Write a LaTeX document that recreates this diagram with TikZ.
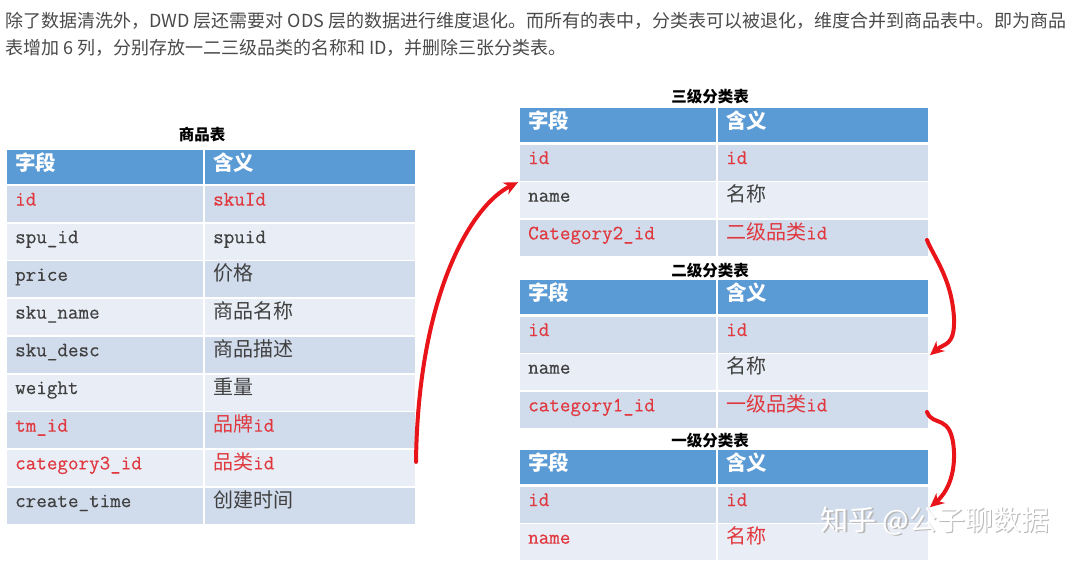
\documentclass[tikz,border=0pt]{standalone}
\usepackage{fontspec}
\setmonofont{Latin Modern Mono}[FakeBold=0.4]
\newfontfamily\cjk{Noto Sans CJK SC}
\usetikzlibrary{calc,arrows.meta}
\definecolor{hdr}{HTML}{5B9BD5}
\definecolor{rowd}{HTML}{D0DBEB}
\definecolor{rowl}{HTML}{E9EEF6}
\definecolor{redt}{HTML}{E0383E}
\definecolor{grayt}{HTML}{404040}
\definecolor{para}{HTML}{4A4A4A}
\definecolor{arrowred}{HTML}{E8141A}
\newcommand\lat[1]{{\ttfamily\fontsize{20.5}{22}\selectfont #1}}
\newcommand\zh[1]{{\cjk\fontsize{20}{22}\selectfont #1}}
\newcommand\rd[1]{\textcolor{redt}{#1}}
\tikzset{
  cellbox/.style={rectangle, inner sep=0pt, outer sep=0pt, draw=none},
  celltext/.style={anchor=base west, inner sep=0pt, text=grayt},
  hdrtext/.style={anchor=west, inner sep=0pt, text=white, font=\cjk\bfseries\fontsize{20.5}{22}\selectfont},
  ttl/.style={inner sep=0pt, text=black, font=\cjk\bfseries\fontsize{15.5}{17}\selectfont},
  redarrow/.style={draw=arrowred, line width=4pt, line cap=round, -{Stealth[length=14pt,width=13pt]}},
}
% #1 name, #2 x0, #3 xs, #4 x1, #5 ytop, #6 height, #7 fill, #8 left text, #9 right text
\newcommand\tblrow[9]{%
  \node[cellbox, fill=#7, minimum width={#3-#2-1}, minimum height=#6, anchor=north west] (#1a) at (#2,#5) {};
  \node[cellbox, fill=#7, minimum width={#4-#3-1}, minimum height=#6, anchor=north west] (#1b) at (#3+1,#5) {};
  \node[celltext] (#1at) at ($(#1a.north west)+(8,19.5)$) {#8};
  \node[celltext] (#1bt) at ($(#1b.north west)+(8,19.5)$) {#9};
}
% header: #1 name, #2 x0, #3 xs, #4 x1, #5 ytop
\newcommand\tblhead[5]{%
  \node[cellbox, fill=hdr, minimum width={#3-#2-1}, minimum height=34, anchor=north west] (#1a) at (#2,#5) {};
  \node[cellbox, fill=hdr, minimum width={#4-#3-1}, minimum height=34, anchor=north west] (#1b) at (#3+1,#5) {};
  \node[hdrtext] (#1at) at ($(#1a.north west)+(8,13)$) {字段};
  \node[hdrtext] (#1bt) at ($(#1b.north west)+(8,13)$) {含义};
}
\begin{document}
\begin{tikzpicture}[x=1pt,y=-1pt]
\useasboundingbox (0,0) rectangle (1080,568);
\fill[white] (0,0) rectangle (1080,568);

% paragraph
\node[anchor=west, inner sep=0pt, text=para, font=\cjk\fontsize{18}{20}\selectfont] (p1) at (5,21)
  {除了数据清洗外，DWD 层还需要对 ODS 层的数据进行维度退化。而所有的表中，分类表可以被退化，维度合并到商品表中。即为商品};
\node[anchor=west, inner sep=0pt, text=para, font=\cjk\fontsize{18}{20}\selectfont] (p2) at (5,48)
  {表增加 6 列，分别存放一二三级品类的名称和 ID，并删除三张分类表。};

% left table
\node[ttl] (tL) at (202,135) {商品表};
\tblhead{Lh}{7}{204}{415}{150}
\tblrow{L1}{7}{204}{415}{186}{36}{rowd}{\rd{\lat{id}}}{\rd{\lat{skuId}}}
\tblrow{L2}{7}{204}{415}{223.7}{36}{rowl}{\lat{spu\_id}}{\lat{spuid}}
\tblrow{L3}{7}{204}{415}{261.4}{36}{rowd}{\lat{price}}{\zh{价格}}
\tblrow{L4}{7}{204}{415}{299.1}{36}{rowl}{\lat{sku\_name}}{\zh{商品名称}}
\tblrow{L5}{7}{204}{415}{336.8}{36}{rowd}{\lat{sku\_desc}}{\zh{商品描述}}
\tblrow{L6}{7}{204}{415}{374.5}{36}{rowl}{\lat{weight}}{\zh{重量}}
\tblrow{L7}{7}{204}{415}{412.2}{36}{rowd}{\rd{\lat{tm\_id}}}{\rd{\zh{品牌}\lat{id}}}
\tblrow{L8}{7}{204}{415}{449.9}{36}{rowl}{\rd{\lat{category3\_id}}}{\rd{\zh{品类}\lat{id}}}
\tblrow{L9}{7}{204}{415}{487.6}{36}{rowd}{\lat{create\_time}}{\zh{创建时间}}

% level 3
\node[ttl] (t3) at (710,97) {三级分类表};
\tblhead{Ah}{520}{717}{928}{108}
\tblrow{A1}{520}{717}{928}{144.5}{36}{rowd}{\rd{\lat{id}}}{\rd{\lat{id}}}
\tblrow{A2}{520}{717}{928}{182.2}{36}{rowl}{\lat{name}}{\zh{名称}}
\tblrow{A3}{520}{717}{928}{219.9}{36}{rowd}{\rd{\lat{Category2\_id}}}{\rd{\zh{二级品类}\lat{id}}}

% level 2
\node[ttl] (t2) at (710,271) {二级分类表};
\tblhead{Bh}{520}{717}{928}{280}
\tblrow{B1}{520}{717}{928}{316.5}{36}{rowd}{\rd{\lat{id}}}{\rd{\lat{id}}}
\tblrow{B2}{520}{717}{928}{354.2}{36}{rowl}{\lat{name}}{\zh{名称}}
\tblrow{B3}{520}{717}{928}{391.9}{36}{rowd}{\rd{\lat{category1\_id}}}{\rd{\zh{一级品类}\lat{id}}}

% level 1
\node[ttl] (t1) at (710,441) {一级分类表};
\tblhead{Ch}{520}{717}{928}{450}
\tblrow{C1}{520}{717}{928}{486.5}{36}{rowd}{\rd{\lat{id}}}{\rd{\lat{id}}}
\tblrow{C2}{520}{717}{928}{524.2}{36}{rowl}{\rd{\lat{name}}}{\rd{\zh{名称}}}

% arrows
\coordinate (s1) at ($(L8b.east)+(1,-6)$);
\coordinate (e1) at ($(A2a.north west)+(-2,0)$);
\draw[redarrow] (s1) .. controls ($(s1)+(2,-165)$) and ($(e1)+(-48,24)$) .. (e1);

\coordinate (s2) at ($(A3b.south east)+(-1,-16)$);
\coordinate (m2) at ($(B1b.north east)+(26,2)$);
\coordinate (e2) at ($(B2b.north east)+(2,1)$);
\draw[redarrow] (s2) .. controls ($(s2)+(6,16)$) and ($(m2)+(-2,-40)$) .. (m2)
  .. controls ($(m2)+(1,28)$) and ($(e2)+(14,-12)$) .. (e2);

\coordinate (s3) at ($(B3b.south east)+(-1,-16)$);
\coordinate (m3) at ($(Chb.north east)+(26,2)$);
\coordinate (e3) at ($(C2b.north east)+(2,-17)$);
\draw[redarrow] (s3) .. controls ($(s3)+(6,16)$) and ($(m3)+(-2,-40)$) .. (m3)
  .. controls ($(m3)+(1,28)$) and ($(e3)+(14,-12)$) .. (e3);

% watermark
\node[inner sep=0pt, text=gray!55, font=\cjk\fontsize{28}{30}\selectfont] (wm0) at (936.5,522.5) {知乎 @公子聊数据};
\node[inner sep=0pt, text=white, font=\cjk\fontsize{28}{30}\selectfont] (wm) at (935,521) {知乎 @公子聊数据};
\end{tikzpicture}
\end{document}
